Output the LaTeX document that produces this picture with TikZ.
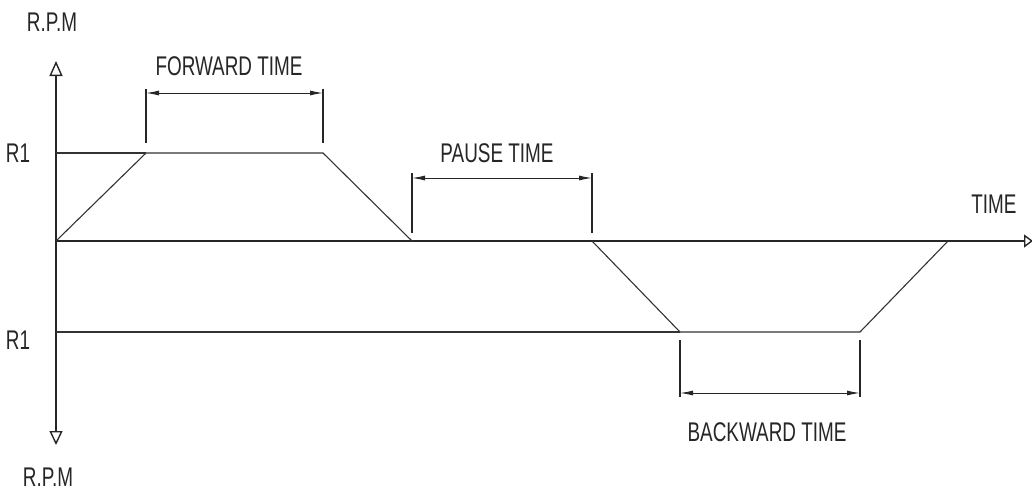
\documentclass[tikz,border=0pt]{standalone}
\usepackage{fontspec}
\newfontfamily\cadfont[FakeStretch=0.7]{Liberation Sans}
\usetikzlibrary{arrows.meta}
\begin{document}
\begin{tikzpicture}[x=1pt,y=-1pt,
  axis/.style={line width=1.4pt, draw=black!85},
  prof/.style={line width=1.1pt, draw=black!80},
  extline/.style={line width=1.1pt, draw=black!85},
  dimline/.style={line width=1pt, draw=black!85,
     {Latex[length=13pt,width=5pt]}-{Latex[length=13pt,width=5pt]}},
  lbl/.style={font=\cadfont\fontsize{27}{27}\selectfont, text=black!85, inner sep=0pt}]
\useasboundingbox (0,0) rectangle (1032,490);
% key points
\coordinate (O) at (56,241);
\coordinate (T) at (56,61);
\coordinate (B) at (56,445);
\coordinate (E) at (1033,241);
\coordinate (p1) at (146,153);
\coordinate (p2) at (323,153);
\coordinate (p3) at (412,241);
\coordinate (p4) at (592,241);
\coordinate (p5) at (680,332);
\coordinate (p6) at (860,332);
\coordinate (p7) at (948,241);
\coordinate (r1t) at (56,153);
\coordinate (r1b) at (56,332);
% axes
\draw[axis,-{Triangle[open,length=15pt,width=13pt]}] (O) -- (T);
\draw[axis,-{Triangle[open,length=14pt,width=13pt]}] (O) -- (B);
\draw[axis,-{Triangle[open,length=9pt,width=13pt]}] (O) -- (E);
% R1 levels
\draw[prof] (r1t) -- (p1);
\draw[prof] (r1b) -- (p5);
% profile
\draw[prof] (O) -- (p1) -- (p2) -- (p3);
\draw[prof] (p4) -- (p5) -- (p6) -- (p7);
% forward time
\coordinate (f1a) at (146,143); \coordinate (f1b) at (146,89);
\coordinate (f2a) at (323,143); \coordinate (f2b) at (323,89);
\coordinate (fd1) at (146,93); \coordinate (fd2) at (323,93);
\draw[extline] (f1a) -- (f1b);
\draw[extline] (f2a) -- (f2b);
\draw[dimline] (fd1) -- (fd2);
% pause time
\coordinate (q1a) at (412,233); \coordinate (q1b) at (412,173);
\coordinate (q2a) at (592,233); \coordinate (q2b) at (592,173);
\coordinate (qd1) at (412,178); \coordinate (qd2) at (592,178);
\draw[extline] (q1a) -- (q1b);
\draw[extline] (q2a) -- (q2b);
\draw[dimline] (qd1) -- (qd2);
% backward time
\coordinate (b1a) at (680,340); \coordinate (b1b) at (680,397);
\coordinate (b2a) at (860,340); \coordinate (b2b) at (860,397);
\coordinate (bd1) at (680,393); \coordinate (bd2) at (860,393);
\draw[extline] (b1a) -- (b1b);
\draw[extline] (b2a) -- (b2b);
\draw[dimline] (bd1) -- (bd2);
% labels
\node[lbl] (rpmtop) at (52,22) {R.P.M};
\node[lbl] (rpmbot) at (48,477) {R.P.M};
\node[lbl] (r1top) at (18,153) {R1};
\node[lbl] (r1bot) at (18,340) {R1};
\node[lbl] (fwd) at (229,66) {FORWARD TIME};
\node[lbl] (pause) at (497,153) {PAUSE TIME};
\node[lbl] (time) at (994,204) {TIME};
\node[lbl] (bwd) at (767,432) {BACKWARD TIME};
\end{tikzpicture}
\end{document}
